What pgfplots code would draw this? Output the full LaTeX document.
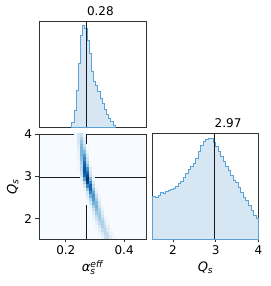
\documentclass[border=0pt]{standalone}
\usepackage{fontspec}
\setmainfont{DejaVu Sans}
\usepackage{amsmath}
\usepackage{pgfplots}
\pgfplotsset{compat=1.18}

\definecolor{histfill}{RGB}{214,230,243}
\definecolor{histedge}{RGB}{91,163,214}
\definecolor{framec}{RGB}{50,50,50}
\definecolor{blues0}{RGB}{247,251,255}

\pgfdeclareplotmark{cell}{\pgfpathrectangle{\pgfpoint{-1.6pt}{-1.85pt}}{\pgfpoint{3.2pt}{3.7pt}}\pgfusepathqfill}

\newcommand{\tfont}{\fontsize{12}{14}\selectfont}

\pgfplotsset{
  every axis/.append style={
    scale only axis,
    axis line style={framec, line width=0.8pt},
    tick style={framec, line width=0.8pt},
    tick align=outside,
    major tick length=3.5pt,
    tick pos=left,
    tick label style={font=\tfont},
    label style={font=\fontsize{13}{15}\selectfont},
    /pgf/number format/assume math mode=true,
  },
  colormap={blues}{rgb255=(247,251,255) rgb255=(222,235,247) rgb255=(198,219,239) rgb255=(158,202,225) rgb255=(107,174,214) rgb255=(66,146,198) rgb255=(33,113,181) rgb255=(8,81,156) rgb255=(8,48,107)},
}

\begin{document}
\begin{tikzpicture}
\path[use as bounding box] (0pt,0pt) rectangle (270pt,286pt);

% ---------- top-left: alpha marginal ----------
\begin{axis}[at={(39pt,159pt)}, anchor=south west,
  width=107pt, height=106pt, clip=false,
  xmin=0.108, xmax=0.475, ymin=0, ymax=318,
  xtick=\empty, ytick=\empty]
\addplot[const plot, fill=histfill, draw=histedge, line width=0.9pt] coordinates {
(0.2205,13) (0.2279,51) (0.2354,109) (0.2428,191) (0.2503,276)
(0.2577,306) (0.2651,296) (0.2726,261) (0.2800,221) (0.2875,166)
(0.2949,136) (0.3023,126) (0.3098,106) (0.3172,86) (0.3247,71)
(0.3321,53) (0.3395,38) (0.3470,26) (0.3544,16) (0.3619,6) (0.3693,6)
} \closedcycle;
\addplot[black!90, line width=1.1pt] coordinates {(0.272,0) (0.272,318)};
\node[anchor=base west, inner sep=0pt, font=\tfont, yshift=5.3pt] at (axis cs:0.272,318) {0.28};
\end{axis}

% ---------- bottom-left: 2D density ----------
\begin{axis}[at={(39pt,47pt)}, anchor=south west,
  width=107pt, height=105pt,
  xmin=0.108, xmax=0.475, ymin=1.52, ymax=4,
  xtick={0.2,0.4}, ytick={2,3,4},
  xticklabels={0.2,0.4},
  axis background/.style={fill=blues0},
  colormap name=blues, point meta min=0, point meta max=1,
  xlabel={\textit{α}$_{\textit{s}}^{\textit{eff}}$},
  ylabel={\textit{Q}$_{\textit{s}}$},
  xlabel style={at={(axis description cs:0.5,0)}, anchor=base, yshift=-33pt},
  ylabel style={at={(axis description cs:-0.21,0.5)}, anchor=base},
]
\addplot[scatter, only marks, mark=cell, point meta=explicit,
  scatter/use mapped color={draw=mapped color, fill=mapped color}]
  table[x index=0, y index=1, meta index=2] {
0.235 3.97 0.02
0.245 3.97 0.16
0.255 3.97 0.22
0.265 3.97 0.04
0.245 3.89 0.17
0.255 3.89 0.32
0.265 3.89 0.09
0.245 3.81 0.16
0.255 3.81 0.40
0.265 3.81 0.15
0.245 3.73 0.13
0.255 3.73 0.45
0.265 3.73 0.23
0.275 3.73 0.02
0.245 3.65 0.10
0.255 3.65 0.48
0.265 3.65 0.32
0.275 3.65 0.03
0.245 3.57 0.07
0.255 3.57 0.47
0.265 3.57 0.44
0.275 3.57 0.06
0.245 3.49 0.07
0.255 3.49 0.46
0.265 3.49 0.57
0.275 3.49 0.13
0.245 3.41 0.05
0.255 3.41 0.42
0.265 3.41 0.67
0.275 3.41 0.20
0.245 3.33 0.03
0.255 3.33 0.36
0.265 3.33 0.76
0.275 3.33 0.30
0.285 3.33 0.02
0.245 3.25 0.02
0.255 3.25 0.30
0.265 3.25 0.82
0.275 3.25 0.42
0.285 3.25 0.04
0.245 3.17 0.03
0.255 3.17 0.30
0.265 3.17 0.86
0.275 3.17 0.62
0.285 3.17 0.11
0.255 3.09 0.24
0.265 3.09 0.85
0.275 3.09 0.76
0.285 3.09 0.17
0.255 3.01 0.18
0.265 3.01 0.79
0.275 3.01 0.89
0.285 3.01 0.25
0.295 3.01 0.02
0.255 2.93 0.08
0.265 2.93 0.56
0.275 2.93 1.00
0.285 2.93 0.45
0.295 2.93 0.05
0.255 2.85 0.03
0.265 2.85 0.31
0.275 2.85 0.90
0.285 2.85 0.66
0.295 2.85 0.12
0.265 2.77 0.14
0.275 2.77 0.66
0.285 2.77 0.80
0.295 2.77 0.24
0.305 2.77 0.02
0.265 2.69 0.05
0.275 2.69 0.40
0.285 2.69 0.80
0.295 2.69 0.40
0.305 2.69 0.05
0.265 2.61 0.02
0.275 2.61 0.20
0.285 2.61 0.66
0.295 2.61 0.54
0.305 2.61 0.11
0.275 2.53 0.12
0.285 2.53 0.48
0.295 2.53 0.61
0.305 2.53 0.26
0.315 2.53 0.04
0.275 2.45 0.05
0.285 2.45 0.30
0.295 2.45 0.58
0.305 2.45 0.36
0.315 2.45 0.08
0.275 2.37 0.02
0.285 2.37 0.17
0.295 2.37 0.48
0.305 2.37 0.45
0.315 2.37 0.14
0.285 2.29 0.08
0.295 2.29 0.34
0.305 2.29 0.48
0.315 2.29 0.22
0.325 2.29 0.03
0.285 2.21 0.03
0.295 2.21 0.21
0.305 2.21 0.44
0.315 2.21 0.30
0.325 2.21 0.07
0.295 2.13 0.12
0.305 2.13 0.36
0.315 2.13 0.37
0.325 2.13 0.12
0.295 2.05 0.05
0.305 2.05 0.25
0.315 2.05 0.39
0.325 2.05 0.19
0.335 2.05 0.03
0.295 1.97 0.04
0.305 1.97 0.18
0.315 1.97 0.35
0.325 1.97 0.29
0.335 1.97 0.11
0.345 1.97 0.02
0.305 1.89 0.09
0.315 1.89 0.27
0.325 1.89 0.33
0.335 1.89 0.18
0.345 1.89 0.04
0.305 1.81 0.04
0.315 1.81 0.17
0.325 1.81 0.31
0.335 1.81 0.25
0.345 1.81 0.09
0.315 1.73 0.09
0.325 1.73 0.24
0.335 1.73 0.29
0.345 1.73 0.15
0.355 1.73 0.04
0.315 1.65 0.04
0.325 1.65 0.15
0.335 1.65 0.28
0.345 1.65 0.22
0.355 1.65 0.07
0.325 1.57 0.08
0.335 1.57 0.22
0.345 1.57 0.26
0.355 1.57 0.13
0.365 1.57 0.03
};
\addplot[black!90, line width=1.1pt] coordinates {(0.272,1.52) (0.272,4)};
\addplot[black!90, line width=1.1pt] coordinates {(0.108,2.97) (0.475,2.97)};
\end{axis}

% ---------- bottom-right: Q marginal ----------
\begin{axis}[at={(152.5pt,47pt)}, anchor=south west,
  width=106pt, height=106pt, clip=false,
  xmin=1.52, xmax=4, ymin=0, ymax=316,
  xtick={2,3,4}, ytick=\empty,
  xlabel={\textit{Q}$_{\textit{s}}$},
  xlabel style={at={(axis description cs:0.5,0)}, anchor=base, yshift=-33pt},
]
\addplot[const plot, fill=histfill, draw=histedge, line width=0.9pt] coordinates {
(1.520,128) (1.589,123) (1.648,130) (1.706,140) (1.765,136) (1.824,142)
(1.883,145) (1.942,148) (2.000,152) (2.059,158) (2.118,165) (2.177,173)
(2.236,183) (2.294,196) (2.353,206) (2.412,216) (2.471,226) (2.530,241)
(2.589,260) (2.647,278) (2.706,290) (2.765,298) (2.824,301) (2.883,300)
(2.941,288) (3.000,276) (3.059,262) (3.118,246) (3.177,230) (3.236,215)
(3.294,204) (3.353,190) (3.412,175) (3.471,168) (3.530,154) (3.589,140)
(3.647,125) (3.706,114) (3.765,100) (3.824,85) (3.883,70) (3.941,61)
(4.000,61)
} \closedcycle;
\addplot[black!90, line width=1.1pt] coordinates {(2.97,0) (2.97,316)};
\node[anchor=base west, inner sep=0pt, font=\tfont, yshift=5.3pt] at (axis cs:2.97,316) {2.97};
\end{axis}
\end{tikzpicture}
\end{document}
